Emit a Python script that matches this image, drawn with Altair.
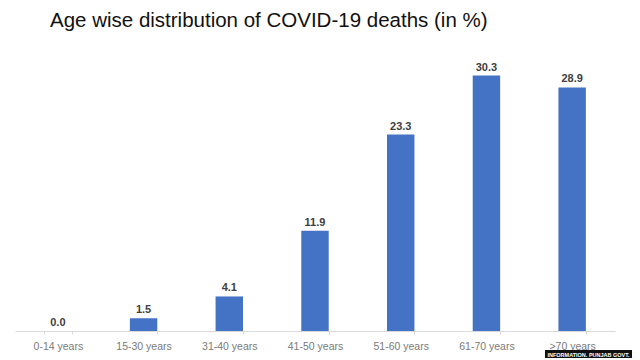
import altair as alt
import pandas as pd

categories = ["0-14 years", "15-30 years", "31-40 years", "41-50 years",
              "51-60 years", "61-70 years", ">70 years"]
values = [0.0, 1.5, 4.1, 11.9, 23.3, 30.3, 28.9]
title_text = "Age wise distribution of COVID-19 deaths (in %)"
watermark = "INFORMATION. PUNJAB GOVT."

df = pd.DataFrame({"age": categories, "pct": values})
df["label"] = [f"{v:.1f}" for v in values]

FONT = "Liberation Sans"

xenc = alt.X("age:N", sort=categories, title=None,
             scale=alt.Scale(paddingInner=0.68, paddingOuter=0.34),
             axis=alt.Axis(labelAngle=0, labelColor="#7a7a7a", labelFontSize=10.5,
                           labelFont=FONT, domainColor="#d9d9d9",
                           tickColor="#d9d9d9", tickBand="extent", tickSize=3,
                           labelPadding=7))
yenc = alt.Y("pct:Q", scale=alt.Scale(domain=[0, 35], nice=False), axis=None)

bars = alt.Chart(df).mark_bar(color="#4472c4").encode(x=xenc, y=yenc)
labels = alt.Chart(df).mark_text(dy=-8, fontSize=11, fontWeight="bold",
                                 color="#404040", font=FONT).encode(
    x=alt.X("age:N", sort=categories), y="pct:Q", text="label:N")

wm_df = pd.DataFrame({"t": [watermark]})
wm_box = alt.Chart(wm_df).mark_rect(color="#111111").encode(
    x=alt.value(530), x2=alt.value(617), y=alt.value(314), y2=alt.value(322))
wm_text = alt.Chart(wm_df).mark_text(color="white", fontSize=5.5, fontWeight="bold",
                                     font=FONT, align="center").encode(
    x=alt.value(573.5), y=alt.value(318.5), text="t:N")

chart = alt.layer(bars, labels, wm_box, wm_text).properties(
    width=600, height=295,
    autosize=alt.AutoSizeParams(type="none"),
    padding={"left": 7, "top": 28, "right": 17, "bottom": 29},
    title=alt.TitleParams(title_text,
                          anchor="start", dx=35, offset=5, fontSize=20.5,
                          font=FONT, fontWeight="normal",
                          color="#111111"),
).configure_view(stroke=None)

chart.save("out.html", embed_options={"renderer": "svg", "actions": False})
